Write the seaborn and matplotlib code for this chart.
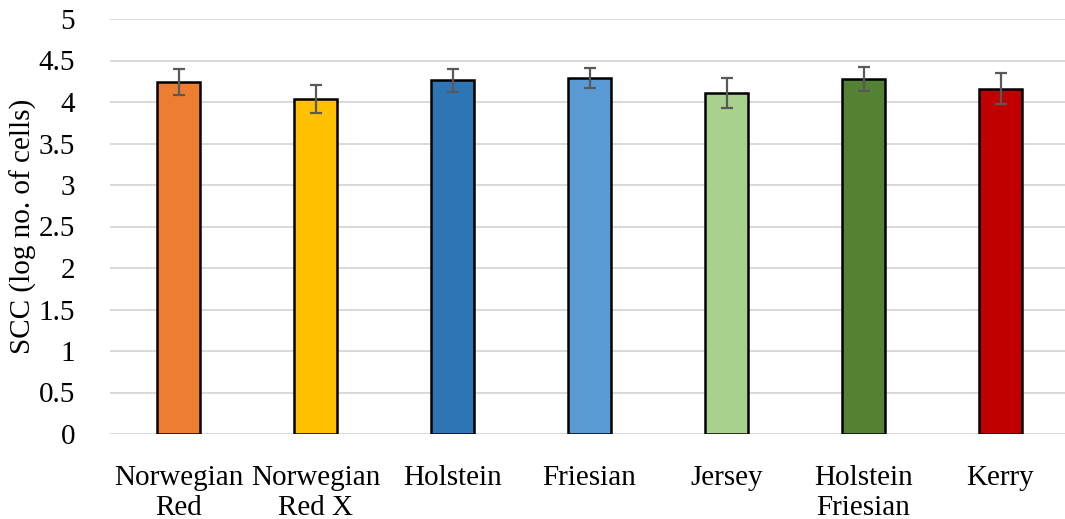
import matplotlib
matplotlib.use("Agg")
import matplotlib.pyplot as plt
import seaborn as sns
import pandas as pd

categories = ["Norwegian\nRed", "Norwegian\nRed X", "Holstein", "Friesian",
              "Jersey", "Holstein\nFriesian", "Kerry"]
values = [4.24, 4.04, 4.26, 4.29, 4.11, 4.28, 4.16]
errors = [0.16, 0.17, 0.14, 0.12, 0.18, 0.145, 0.185]
colors = ["#ED7D31", "#FFC000", "#2E75B6", "#5B9BD5", "#A9D18E", "#548235", "#C00000"]
yticks = [0, 0.5, 1, 1.5, 2, 2.5, 3, 3.5, 4, 4.5, 5]
ytick_labels = ["0", "0.5", "1", "1.5", "2", "2.5", "3", "3.5", "4", "4.5", "5"]

sns.set_theme(style="white")
plt.rcParams["font.family"] = ["Liberation Serif", "DejaVu Serif"]

df = pd.DataFrame({"breed": categories, "scc": values})

W, H = 1065, 519
fig = plt.figure(figsize=(W / 100, H / 100), dpi=100)
left, right, bottom, top = 110, 1069, 434, 19
ax = fig.add_axes([left / W, 1 - bottom / H, (right - left) / W, (bottom - top) / H])

sns.barplot(data=df, x="breed", y="scc", hue="breed", palette=colors, legend=False,
            saturation=1, width=0.32, edgecolor="black", linewidth=1.8, ax=ax, zorder=3)
ax.errorbar(x=list(range(len(categories))), y=values, yerr=errors, fmt="none",
            ecolor="#595959", elinewidth=1.6, capsize=4.5, capthick=1.6, zorder=4)

ax.set_ylim(0, 5)
ax.set_xlim(-0.5, len(categories) - 0.5)
ax.set_yticks(yticks)
ax.set_yticklabels(ytick_labels)
ax.yaxis.grid(True, color="#d9d9d9", linewidth=1.4, zorder=0)
ax.set_axisbelow(True)
for s in ax.spines.values():
    s.set_visible(False)
ax.tick_params(axis="both", length=0, labelsize=21, colors="black")
ax.tick_params(axis="x", pad=22)
ax.tick_params(axis="y", pad=25)
ax.set_xlabel("")
ax.set_ylabel("SCC (log no. of cells)", fontsize=21, labelpad=1, color="black")
for lbl in ax.get_xticklabels():
    lbl.set_verticalalignment("top")
    lbl.set_linespacing(1.2)

fig.savefig("out.png", dpi=100)
